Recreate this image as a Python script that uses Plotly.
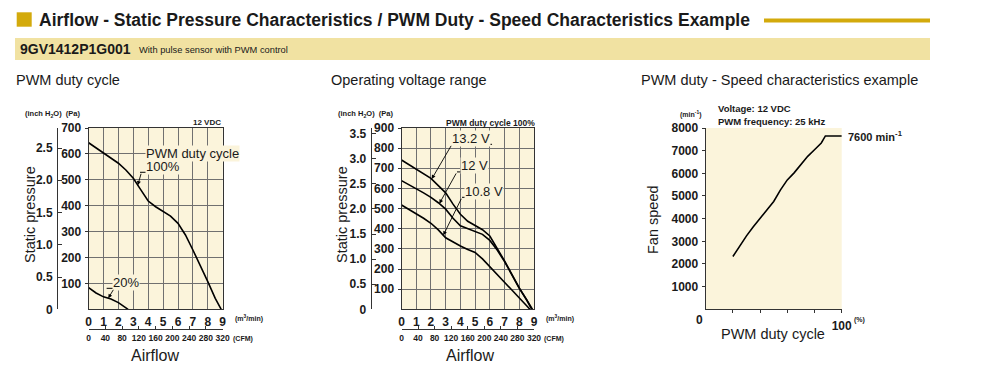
import numpy as np
import plotly.graph_objects as go

# The page body has an 8 px margin, so the figure is drawn 8 px in from the
# top-left corner; size it so it fits exactly in the 1000x372 window.
OFF = 8
W, H = 1000 - OFF, 372 - OFF


def px(x):
    return (x - OFF) / W


def py(y):
    return 1 - (y - OFF) / H


PA_PER_INH2O = 249.09

# ---------------- data ----------------
# Chart 1: PWM duty cycle (12 VDC)
C1_AIRFLOW_100 = [0, 0.5, 1, 1.5, 2, 2.5, 3, 3.44, 4, 4.5, 5, 5.5, 6, 6.5, 7, 7.5, 8, 8.5, 8.9]
C1_PRESSURE_100 = [643, 623, 603, 584, 564, 538, 506, 467, 418, 396, 379, 360, 332, 287, 229, 171, 107, 42, 0]
C1_AIRFLOW_20 = [0, 0.5, 1, 1.5, 2, 2.3, 2.65]
C1_PRESSURE_20 = [84, 63, 48, 40, 26, 14, 0]

# Chart 2: Operating voltage range (PWM 100%)
C2_AIRFLOW_132 = [0, 0.5, 1, 1.5, 2, 2.5, 3, 3.5, 4, 4.5, 5, 5.5, 6, 6.5, 7, 7.5, 8, 8.5, 8.9]
C2_PRESSURE_132 = [741, 718, 697, 673, 650, 614, 578, 522, 472, 437, 414, 395, 364, 305, 240, 173, 106, 48, 0]
C2_AIRFLOW_12 = [0, 0.5, 1, 1.5, 2, 2.5, 3, 3.5, 4, 4.5, 5, 5.5, 6, 6.5, 7, 7.5, 8, 8.5, 8.85]
C2_PRESSURE_12 = [639, 620, 600, 578, 556, 529, 497, 452, 415, 400, 387, 372, 342, 294, 237, 170, 104, 46, 0]
C2_AIRFLOW_108 = [0, 0.5, 1, 1.5, 2, 2.5, 3, 3.5, 4, 4.5, 5, 5.5, 6, 6.5, 7, 7.5, 8, 8.5, 8.72]
C2_PRESSURE_108 = [518, 497, 476, 452, 427, 394, 355, 334, 314, 297, 282, 250, 212, 175, 136, 98, 60, 18, 0]

# Chart 3: PWM duty - speed
C3_DUTY = [20, 25, 30, 35, 40, 45, 50, 55, 60, 65, 70, 75, 80, 85, 88, 100]
C3_SPEED = [2330, 2800, 3240, 3640, 4020, 4380, 4760, 5270, 5710, 6020, 6380, 6750, 7040, 7340, 7650, 7650]

# ticks / labels
AIRFLOW_TICKS = list(range(10))
CFM_TICKS = [0, 40, 80, 120, 160, 200, 240, 280, 320]
C1_PA_TICKS = [100, 200, 300, 400, 500, 600, 700]
C1_INCH_TICKS = [0, 0.5, 1.0, 1.5, 2.0, 2.5]
C1_INCH_LABELS = ["0", "0.5", "1.0", "1.5", "2.0", "2.5"]
C2_PA_TICKS = [100, 200, 300, 400, 500, 600, 700, 800, 900]
C2_INCH_TICKS = [0, 0.5, 1.0, 1.5, 2.0, 2.5, 3.0, 3.5]
C2_INCH_LABELS = ["0", "0.5", "1.0", "1.5", "2.0", "2.5", "3.0", "3.5"]
SPEED_TICKS = [1000, 2000, 3000, 4000, 5000, 6000, 7000, 8000]
DUTY_TICKS = [20, 40, 60, 80, 100]
DUTY_TICK_LABELS = ["", "", "", "", "100"]
DUTY_ZERO_LABEL = "0"

# ---------------- style ----------------
CREAM = "#FBF4DB"
GRID = "#707070"
AX = "#333333"
TXT = "#1a1a1a"
GOLD = "#D3AA0C"
BAND = "#F1E2A2"
SANS = "Liberation Sans, Arial, sans-serif"

tickfont_b = dict(family=SANS, size=12, color=TXT, weight="bold")
tickfont_s = dict(family=SANS, size=8.5, color=TXT, weight="bold")

fig = go.Figure()

LW = 1.6
fig.add_trace(go.Scatter(x=C1_AIRFLOW_100, y=C1_PRESSURE_100, mode="lines",
                         line=dict(color="black", width=LW), xaxis="x", yaxis="y"))
fig.add_trace(go.Scatter(x=C1_AIRFLOW_20, y=C1_PRESSURE_20, mode="lines",
                         line=dict(color="black", width=LW), xaxis="x", yaxis="y"))
for xs, ys in [(C2_AIRFLOW_132, C2_PRESSURE_132), (C2_AIRFLOW_12, C2_PRESSURE_12),
               (C2_AIRFLOW_108, C2_PRESSURE_108)]:
    fig.add_trace(go.Scatter(x=xs, y=ys, mode="lines",
                             line=dict(color="black", width=LW), xaxis="x3", yaxis="y3"))
fig.add_trace(go.Scatter(x=C3_DUTY, y=C3_SPEED, mode="lines",
                         line=dict(color="black", width=LW), xaxis="x5", yaxis="y5",
                         cliponaxis=False))
# dummy traces so the secondary axes get drawn
for xa, ya in [("x2", "y"), ("x", "y2"), ("x4", "y3"), ("x3", "y4")]:
    fig.add_trace(go.Scatter(x=[None], y=[None], xaxis=xa, yaxis=ya, mode="lines",
                             hoverinfo="skip"))

# plot geometry (pixels in the 1000x372 window)
C1_X0, C1_X1 = 88.6, 222.7
C2_X0, C2_X1 = 401.5, 534.0
C3_X0, C3_X1 = 705.7, 841.7
Y_TOP, Y_BOT = 128.0, 309.3
YDOM = [py(Y_BOT), py(Y_TOP)]


def main_x(x0, x1, anchor):
    return dict(domain=[px(x0), px(x1)], range=[0, 9], anchor=anchor,
                tickvals=AIRFLOW_TICKS, ticks="", showgrid=True, gridcolor=GRID,
                gridwidth=1, showline=True, linecolor=AX, linewidth=1, mirror=True,
                zeroline=False, tickfont=tickfont_b, ticklabelstandoff=1, tickangle=0,
                automargin=False, fixedrange=True)


def main_y(rng, ticks, anchor):
    return dict(domain=YDOM, range=rng, anchor=anchor, tickvals=ticks, ticks="outside",
                ticklen=3, tickcolor=AX, showgrid=True, gridcolor=GRID, gridwidth=1,
                showline=True, linecolor=AX, linewidth=1, mirror=True, zeroline=False,
                tickfont=tickfont_b, ticklabelstandoff=1, automargin=False,
                fixedrange=True)


def inch_y(over, pos, top_pa, ticks, labels):
    return dict(overlaying=over, anchor="free", position=px(pos), side="left",
                range=[0, top_pa / PA_PER_INH2O], tickvals=ticks, ticktext=labels,
                ticks="inside", ticklen=4, tickcolor=AX, showline=True, linecolor=AX,
                linewidth=1, showgrid=False, zeroline=False, tickfont=tickfont_b,
                ticklabelstandoff=2, automargin=False, fixedrange=True)


def cfm_x(over, x0, x1):
    return dict(overlaying=over, anchor="free", position=py(329), side="bottom",
                domain=[px(x0), px(x1)], range=[0, 320], tickvals=CFM_TICKS,
                ticks="inside", ticklen=3, tickcolor=AX, showline=True, linecolor=AX,
                linewidth=1, showgrid=False, zeroline=False, tickfont=tickfont_s,
                tickangle=0, ticklabelstandoff=1, automargin=False, fixedrange=True)


layout = dict(
    width=W, height=H, autosize=False,
    margin=dict(l=0, r=0, t=0, b=0, pad=0, autoexpand=False),
    paper_bgcolor="white", plot_bgcolor=CREAM, showlegend=False,
    font=dict(family=SANS, color=TXT),
    xaxis=main_x(C1_X0, C1_X1, "y"),
    yaxis=main_y([0, 700], C1_PA_TICKS, "x"),
    yaxis2=inch_y("y", 57, 700, C1_INCH_TICKS, C1_INCH_LABELS),
    xaxis2=cfm_x("x", C1_X0, C1_X1),
    xaxis3=main_x(C2_X0, C2_X1, "y3"),
    yaxis3=main_y([0, 900], C2_PA_TICKS, "x3"),
    yaxis4=inch_y("y3", 370.7, 900, C2_INCH_TICKS, C2_INCH_LABELS),
    xaxis4=cfm_x("x3", C2_X0, C2_X1),
    xaxis5=dict(domain=[px(C3_X0), px(C3_X1)], range=[0, 100], anchor="y5",
                tickvals=DUTY_TICKS, ticktext=DUTY_TICK_LABELS, ticks="outside",
                ticklen=3, tickcolor=AX, showline=True, linecolor=AX, linewidth=1.2,
                showgrid=False, zeroline=False, tickfont=tickfont_b, tickangle=0,
                ticklabelstandoff=2, automargin=False, fixedrange=True),
    yaxis5=dict(domain=YDOM, range=[0, 8000], anchor="x5", tickvals=SPEED_TICKS,
                ticks="outside", ticklen=3, tickcolor=AX, showline=True, linecolor=AX,
                linewidth=1.2, showgrid=False, zeroline=False, tickfont=tickfont_b,
                ticklabelstandoff=1, automargin=False, fixedrange=True),
)
fig.update_layout(**layout)

shapes = []
ann = []


def ptext(x, y, text, size, xanchor="left", family=SANS, weight="normal", angle=0,
          color=TXT):
    ann.append(dict(x=px(x), y=py(y), xref="paper", yref="paper", text=text,
                    showarrow=False, xanchor=xanchor, yanchor="middle", textangle=angle,
                    font=dict(family=family, size=size, color=color, weight=weight)))


# ---------- header ----------
shapes.append(dict(type="rect", xref="paper", yref="paper", x0=px(16.7), x1=px(31.7),
                   y0=py(26.7), y1=py(12.3), fillcolor=GOLD, line=dict(width=0)))
shapes.append(dict(type="rect", xref="paper", yref="paper", x0=px(764), x1=px(930),
                   y0=py(22.5), y1=py(18.5), fillcolor=GOLD, line=dict(width=0)))
shapes.append(dict(type="rect", xref="paper", yref="paper", x0=px(15), x1=px(930),
                   y0=py(60), y1=py(38), fillcolor=BAND, line=dict(width=0)))
ptext(37, 20, "Airflow - Static Pressure Characteristics / PWM Duty - Speed Characteristics Example",
      17.5, weight="bold")
ptext(18, 49, "9GV1412P1G001", 14, weight="bold")
ptext(137, 50, "With pulse sensor with PWM control", 9.3)

# ---------- section titles ----------
ptext(14, 80, "PWM duty cycle", 14.5)
ptext(329, 80, "Operating voltage range", 14.5)
ptext(639, 80, "PWM duty - Speed characteristics example", 14.5)

# ---------- chart 1 labels ----------
ptext(23, 114, "(inch H<sub>2</sub>O)  (Pa)", 7.5, weight="bold")
ptext(223, 122, "12 VDC", 8, xanchor="right", weight="bold")
ptext(30, 215, "Static pressure", 14.5, xanchor="center", angle=-90)
ptext(233, 318, "(m<sup>3</sup>/min)", 7, weight="bold")
ptext(231, 339, "(CFM)", 7, weight="bold")
ptext(155, 355, "Airflow", 16, xanchor="center")

# ---------- chart 2 labels ----------
ptext(336, 114, "(inch H<sub>2</sub>O)  (Pa)", 7.5, weight="bold")
ptext(537, 123, "PWM duty cycle 100%", 8.5, xanchor="right", weight="bold")
ptext(342, 215, "Static pressure", 14.5, xanchor="center", angle=-90)
ptext(544, 318, "(m<sup>3</sup>/min)", 7, weight="bold")
ptext(542, 339, "(CFM)", 7, weight="bold")
ptext(470, 355, "Airflow", 16, xanchor="center")

# ---------- chart 3 labels ----------
ptext(703, 114, "(min<sup>-1</sup>)", 7, xanchor="right", weight="bold")
ptext(716, 108, "Voltage: 12 VDC", 9.5, weight="bold")
ptext(716, 121, "PWM frequency: 25 kHz", 9.5, weight="bold")
ptext(846, 136, "7600 min<sup>-1</sup>", 11, weight="bold")
ptext(653, 220, "Fan speed", 14.5, xanchor="center", angle=-90)
ptext(773, 334, "PWM duty cycle", 14.5, xanchor="center")
ptext(852, 320, "(%)", 7, weight="bold")
ptext(699, 320, DUTY_ZERO_LABEL, 12, xanchor="center", weight="bold")
# leader of the 7600 label
shapes.append(dict(type="line", xref="x5", yref="y5", x0=100, x1=102,
                   y0=C3_SPEED[-1], y1=C3_SPEED[-1], line=dict(color="black", width=LW)))


# ---------- curve callouts ----------
def callout(xr, yr, label, tx, ty, ux0, ux1, uy, lx, curve_x, curve_y, at_x, size=13):
    tip_y = float(np.interp(at_x, curve_x, curve_y))
    ann.append(dict(x=tx, y=ty, xref=xr, yref=yr, text=label, showarrow=False,
                    xanchor="center", yanchor="middle", bgcolor=CREAM, borderpad=0,
                    font=dict(family=SANS, size=size, color=TXT)))
    shapes.append(dict(type="line", xref=xr, yref=yr, x0=ux0, x1=ux1, y0=uy, y1=uy,
                       line=dict(color="black", width=1)))
    ann.append(dict(x=at_x, y=tip_y, xref=xr, yref=yr, ax=lx, ay=uy, axref=xr,
                    ayref=yr, text="", showarrow=True, arrowhead=2, arrowsize=0.9,
                    arrowwidth=0.9, arrowcolor="black", standoff=0))


# chart 1
ann.append(dict(x=3.79, y=600, xref="x", yref="y", text="PWM duty cycle", showarrow=False,
                xanchor="left", yanchor="middle", bgcolor=CREAM, borderpad=0,
                font=dict(family=SANS, size=13, color=TXT)))
callout("x", "y", "100%", 4.96, 552, 3.45, 6.13, 529, 3.55, C1_AIRFLOW_100, C1_PRESSURE_100, 3.3)
callout("x", "y", "20%", 2.48, 105, 1.21, 3.34, 81, 1.72, C1_AIRFLOW_20, C1_PRESSURE_20, 1.32)
# chart 2
callout("x3", "y3", "13.2 V", 4.72, 848, 3.43, 6.15, 819, 3.43, C2_AIRFLOW_132, C2_PRESSURE_132, 2.05)
callout("x3", "y3", "12 V", 4.99, 712, 3.77, 5.81, 682, 3.77, C2_AIRFLOW_12, C2_PRESSURE_12, 2.57)
callout("x3", "y3", "10.8 V", 5.57, 585, 4.11, 6.83, 556, 4.11, C2_AIRFLOW_108, C2_PRESSURE_108, 2.84)

fig.update_layout(shapes=shapes, annotations=ann)
fig.write_html("out.html")
